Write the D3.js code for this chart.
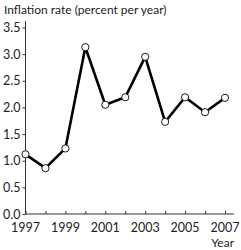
<!DOCTYPE html>
<html lang="en">
<head>
  <meta charset="UTF-8">
  <title>Inflation rate</title>
  <script src="https://d3js.org/d3.v7.min.js"></script>
  <style>
    body {
      margin: 0;
      background: #fff;
      font-family: Lato, "DejaVu Sans", sans-serif;
    }
    svg text {
      fill: #222;
    }
  </style>
</head>
<body>
  <div id="chart"></div>

  <script>
    // data
    const years = [1997, 1998, 1999, 2000, 2001, 2002, 2003, 2004, 2005, 2006, 2007];
    const inflation = [1.12, 0.86, 1.23, 3.13, 2.05, 2.19, 2.95, 1.73, 2.19, 1.91, 2.18];
    const yTicks = [0, 0.5, 1.0, 1.5, 2.0, 2.5, 3.0, 3.5];
    const xTickLabels = [1997, 1999, 2001, 2003, 2005, 2007];

    const width = 241, height = 250;

    const svg = d3.select("#chart")
                  .append("svg")
                  .attr("width", width)
                  .attr("height", height);

    const x = d3.scaleLinear()
                .domain([1997, 2007])
                .range([25.5, 225]);

    const y = d3.scaleLinear()
                .domain([0, 3.5])
                .range([214, 27.5]);

    // y axis
    const yAxis = svg.append("g")
      .attr("transform", `translate(${x(1997)},0)`)
      .call(d3.axisLeft(y).tickValues(yTicks).tickFormat(d3.format(".1f")).tickSize(3).tickPadding(2));
    yAxis.select(".domain").remove();
    yAxis.append("line")
      .attr("y1", y(0)).attr("y2", y(3.62))
      .attr("stroke", "#333").attr("stroke-width", 1);
    yAxis.selectAll(".tick line").attr("stroke", "#333");
    yAxis.selectAll(".tick text")
      .attr("font-size", 12.5)
      .attr("font-family", "Lato, sans-serif");

    // x axis
    const xAxis = svg.append("g")
      .attr("transform", `translate(0,${y(0)})`)
      .call(d3.axisTop(x).tickValues(years).tickFormat("").tickSize(3));
    xAxis.select(".domain").remove();
    xAxis.append("line")
      .attr("x1", x(1997)).attr("x2", 234)
      .attr("stroke", "#333").attr("stroke-width", 1);
    xAxis.selectAll(".tick line").attr("stroke", "#333");

    svg.append("g")
      .selectAll("text")
      .data(xTickLabels)
      .join("text")
      .attr("x", d => x(d))
      .attr("y", y(0) + 18)
      .attr("text-anchor", "middle")
      .attr("font-size", 12.5)
      .text(d => d);

    // axis titles
    svg.append("text")
      .attr("x", 4)
      .attr("y", 14)
      .attr("font-size", 12)
      .text("Inflation rate (percent per year)");

    svg.append("text")
      .attr("x", 234)
      .attr("y", 247)
      .attr("text-anchor", "end")
      .attr("font-size", 12)
      .text("Year");

    // line
    const line = d3.line()
      .x((d, i) => x(years[i]))
      .y(d => y(d));

    svg.append("path")
      .datum(inflation)
      .attr("d", line)
      .attr("fill", "none")
      .attr("stroke", "#000")
      .attr("stroke-width", 2.6)
      .attr("stroke-linejoin", "miter");

    svg.append("g")
      .selectAll("circle")
      .data(inflation)
      .join("circle")
      .attr("cx", (d, i) => x(years[i]))
      .attr("cy", d => y(d))
      .attr("r", 3.6)
      .attr("fill", "#fff")
      .attr("stroke", "#000")
      .attr("stroke-width", 0.9);
  </script>
</body>
</html>
